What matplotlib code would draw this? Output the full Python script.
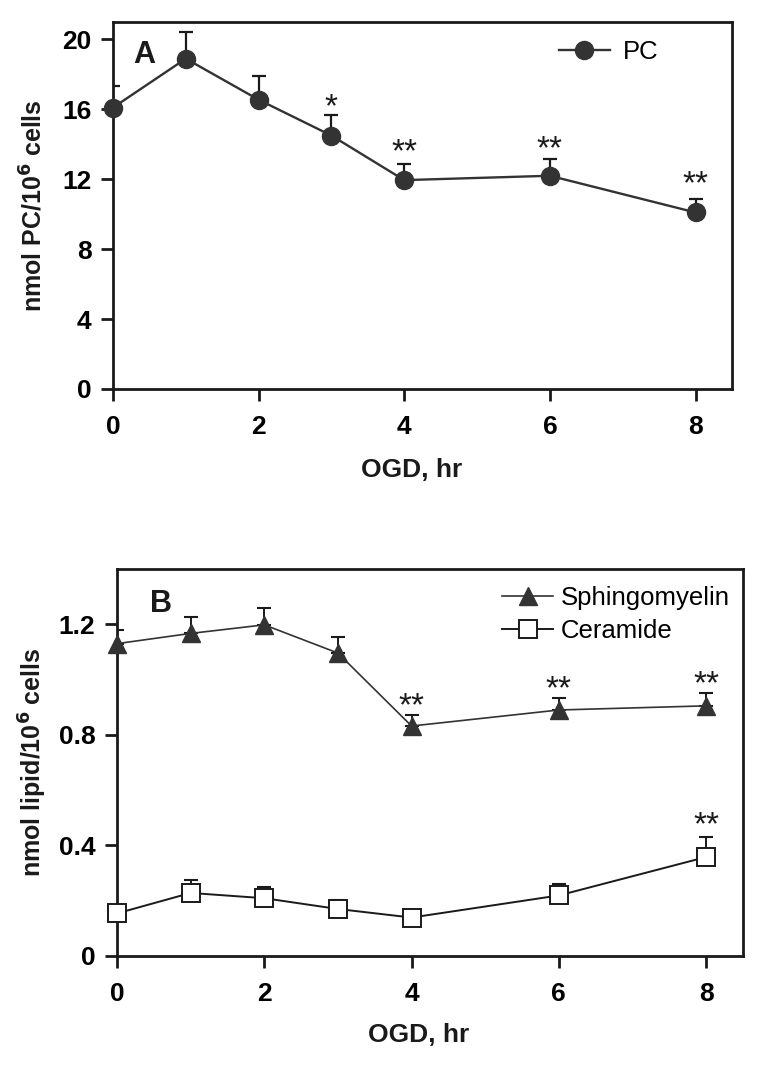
import numpy as np
import matplotlib
matplotlib.use('Agg')
import matplotlib.pyplot as plt
from matplotlib.transforms import blended_transform_factory

plt.rcParams['font.family'] = ['Liberation Sans', 'DejaVu Sans']

# panel A: phosphatidylcholine
hours_pc = [0, 1, 2, 3, 4, 6, 8]
pc_mean = [16.1, 18.9, 16.55, 14.5, 11.95, 12.2, 10.1]
pc_sem = [1.25, 1.5, 1.33, 1.16, 0.95, 0.97, 0.79]
pc_star_x = [3, 4, 6, 8]
pc_star_y = [16.7, 14.1, 14.3, 12.3]
pc_star_txt = ['*', '**', '**', '**']

# panel B: sphingomyelin / ceramide
hours_b = [0, 1, 2, 3, 4, 6, 8]
sm_mean = [1.13, 1.167, 1.198, 1.096, 0.832, 0.89, 0.905]
sm_sem = [0.05, 0.06, 0.06, 0.058, 0.04, 0.044, 0.047]
cer_mean = [0.154, 0.228, 0.209, 0.17, 0.139, 0.219, 0.358]
cer_sem = [0.01, 0.048, 0.042, 0.033, 0.01, 0.043, 0.073]
b_star_x = [4, 6, 8, 8]
b_star_y = [0.94, 1.0, 1.02, 0.51]
b_star_txt = ['**', '**', '**', '**']

xticks = [0, 2, 4, 6, 8]
pc_yticks = [0, 4, 8, 12, 16, 20]
b_yticks = [0, 0.4, 0.8, 1.2]
b_yticklabels = ['0', '0.4', '0.8', '1.2']

dark = '#333333'
ink = '#1a1a1a'

fig = plt.figure(figsize=(7.64, 10.71), dpi=100)
axA = fig.add_axes([0.1479, 0.6368, 0.8101, 0.3427])
axB = fig.add_axes([0.1531, 0.1074, 0.8194, 0.3613])


def style_axis(ax):
    for sp in ax.spines.values():
        sp.set_linewidth(2.0)
        sp.set_color(ink)
    ax.tick_params(direction='out', length=8.5, width=2.0, color=ink,
                   labelsize=19)
    ax.tick_params(axis='x', pad=10)
    ax.tick_params(axis='y', pad=7)
    for lab in ax.get_xticklabels() + ax.get_yticklabels():
        lab.set_fontweight('bold')


def add_stars(ax, xs, ys, txts):
    for x, y, t in zip(xs, ys, txts):
        ax.annotate(t, (x, y), xytext=(0, -13.8), textcoords='offset points',
                    ha='center', va='baseline', fontsize=24, color=ink)


# ---- panel A
axA.errorbar(hours_pc, pc_mean, yerr=[np.zeros(len(pc_sem)), pc_sem], fmt='none',
             ecolor=ink, elinewidth=1.6, capsize=4.8, capthick=1.6, zorder=2)
axA.plot(hours_pc, pc_mean, '-o', color=dark, lw=1.7, ms=13,
         mfc=dark, mec=dark, label='PC', zorder=3, clip_on=False)
axA.set_xlim(0, 8.5)
axA.set_ylim(0, 21)
axA.set_xticks(xticks)
axA.set_yticks(pc_yticks)
style_axis(axA)
add_stars(axA, pc_star_x, pc_star_y, pc_star_txt)
axA.text(0.05, 0.91, 'A', transform=axA.transAxes, fontsize=22,
         fontweight='bold', ha='center', va='center', color=ink)
axA.legend(loc='upper left', bbox_to_anchor=(0.72, 0.95), frameon=False,
           fontsize=18.5, handlelength=2.0, handletextpad=0.5,
           borderpad=0, borderaxespad=0)
axA.text(-0.129, 0.5, 'nmol PC/10$^{\\mathbf{6}}$ cells', transform=axA.transAxes,
         rotation=90, ha='center', va='center', fontsize=18, fontweight='bold',
         color=ink)
trA = blended_transform_factory(axA.transData, axA.transAxes)
axA.text(4.1, -0.22, 'OGD, hr', transform=trA, ha='center', va='center',
         fontsize=19, fontweight='bold', color=ink)

# ---- panel B
axB.errorbar(hours_b, sm_mean, yerr=[np.zeros(len(sm_sem)), sm_sem], fmt='none',
             ecolor=ink, elinewidth=1.4, capsize=4.8, capthick=1.5, zorder=2)
axB.errorbar(hours_b, cer_mean, yerr=[np.zeros(len(cer_sem)), cer_sem], fmt='none',
             ecolor=ink, elinewidth=1.4, capsize=4.8, capthick=1.5, zorder=2)
axB.plot(hours_b, sm_mean, '-^', color=dark, lw=1.2, ms=13,
         mfc=dark, mec=dark, label='Sphingomyelin', zorder=3, clip_on=False)
axB.plot(hours_b, cer_mean, '-s', color=ink, lw=1.4, ms=12.5,
         mfc='white', mec=ink, mew=1.4, label='Ceramide', zorder=3, clip_on=False)
axB.set_xlim(0, 8.5)
axB.set_ylim(0, 1.4)
axB.set_xticks(xticks)
axB.set_yticks(b_yticks)
axB.set_yticklabels(b_yticklabels)
style_axis(axB)
add_stars(axB, b_star_x, b_star_y, b_star_txt)
axB.text(0.07, 0.91, 'B', transform=axB.transAxes, fontsize=22,
         fontweight='bold', ha='center', va='center', color=ink)
axB.legend(loc='upper left', bbox_to_anchor=(0.615, 0.955), frameon=False,
           fontsize=18.5, handlelength=2.0, handletextpad=0.3, labelspacing=0.35,
           borderpad=0, borderaxespad=0)
axB.text(-0.134, 0.5, 'nmol lipid/10$^{\\mathbf{6}}$ cells', transform=axB.transAxes,
         rotation=90, ha='center', va='center', fontsize=18, fontweight='bold',
         color=ink)
trB = blended_transform_factory(axB.transData, axB.transAxes)
axB.text(4.1, -0.205, 'OGD, hr', transform=trB, ha='center', va='center',
         fontsize=19, fontweight='bold', color=ink)

fig.savefig('out.png', dpi=100)
